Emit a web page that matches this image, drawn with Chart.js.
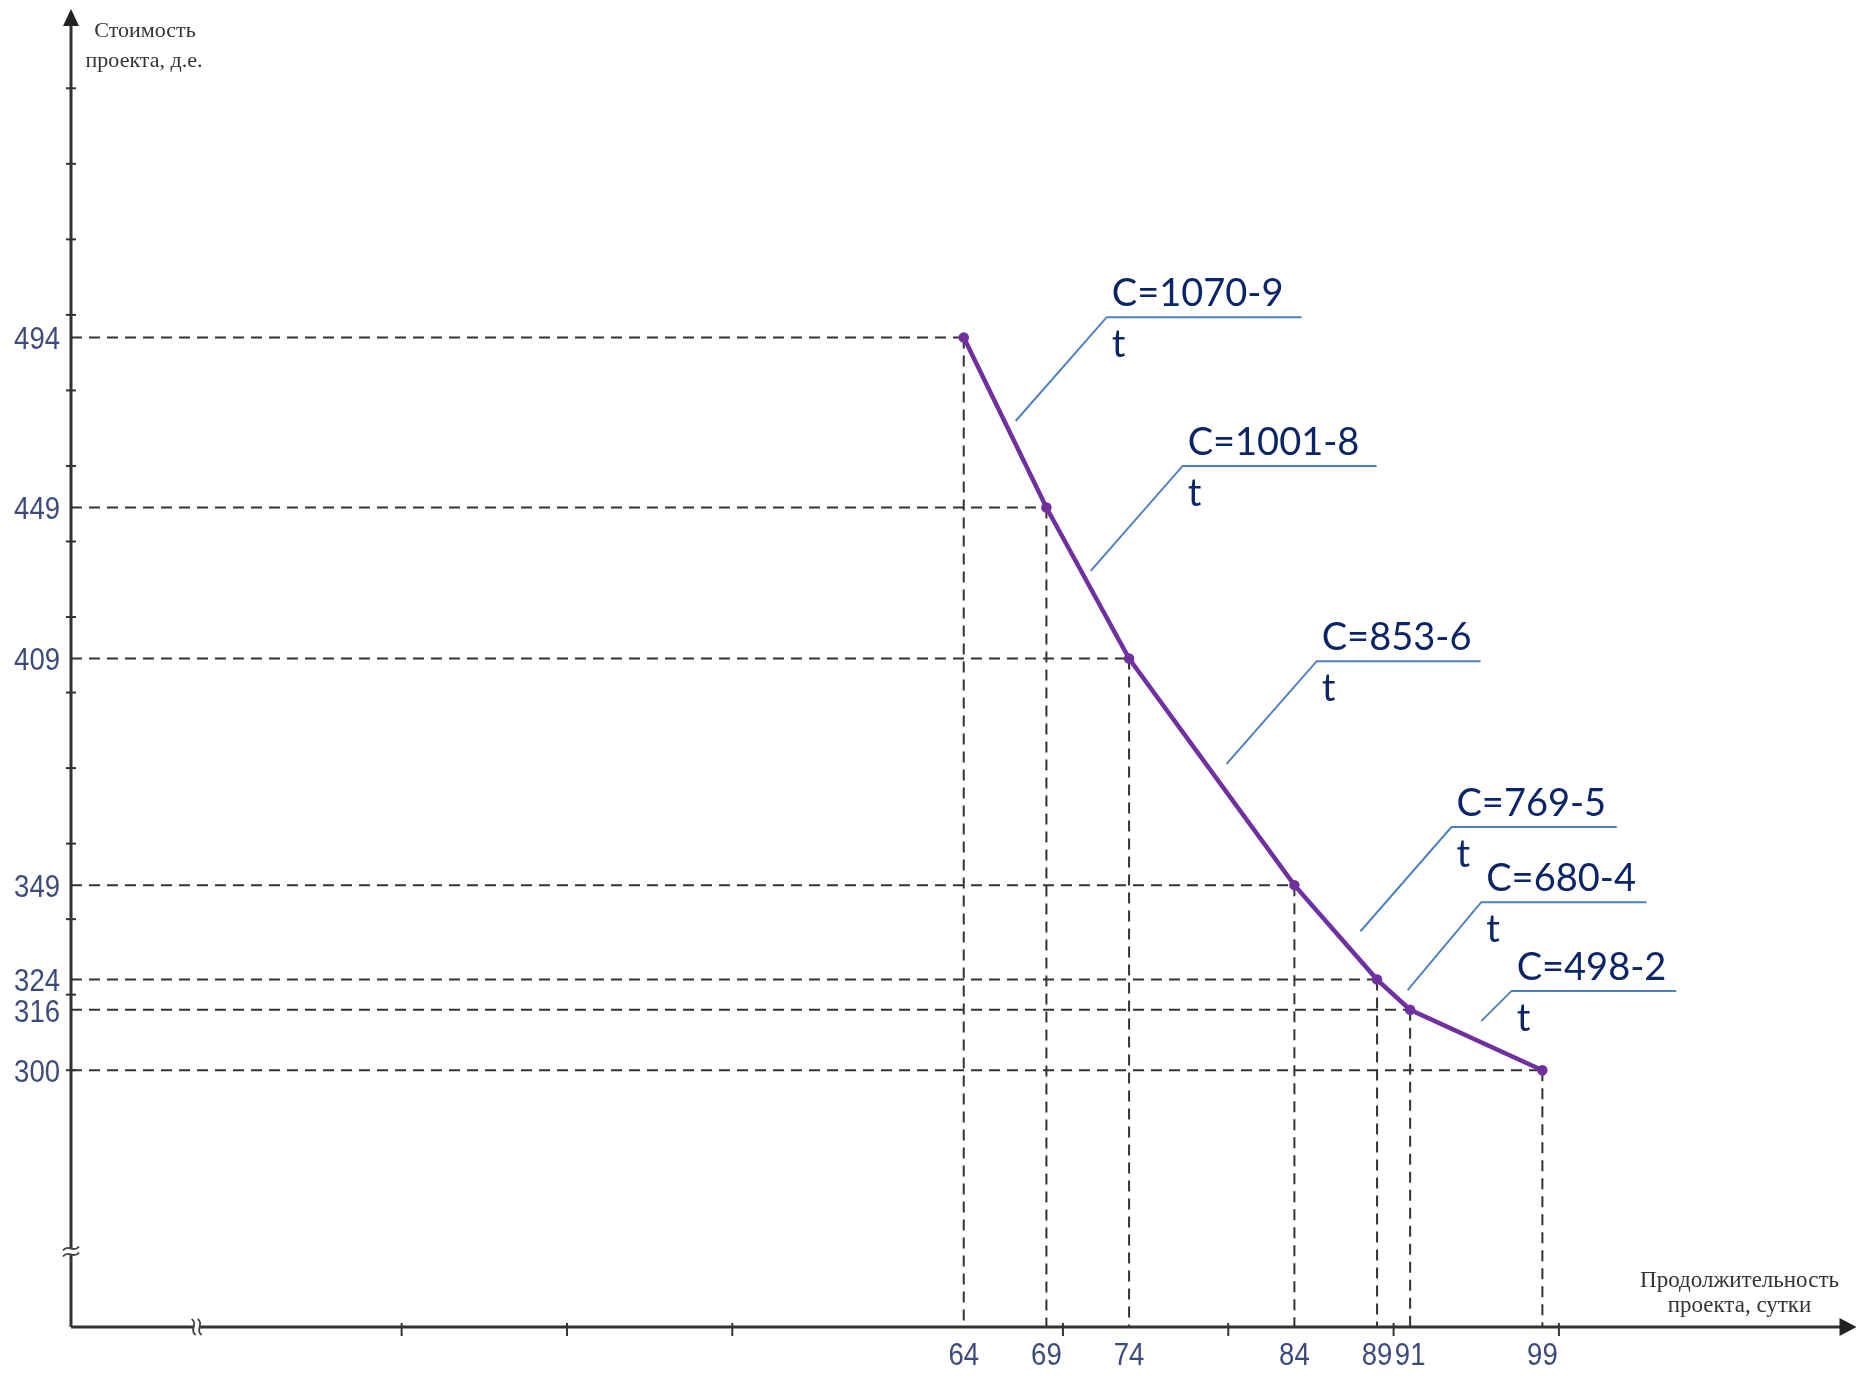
<!DOCTYPE html>
<html><head><meta charset="utf-8">
<script src="https://cdn.jsdelivr.net/npm/chart.js@4.4.0/dist/chart.umd.min.js"></script>
<style>html,body{margin:0;padding:0;background:#fff;} #wrap{width:1864px;height:1376px;}</style>
</head><body><div id="wrap"><canvas id="c" width="1864" height="1376"></canvas></div>
<script>
// ---- data ----
const durations = [64, 69, 74, 84, 89, 91, 99];
const costs = [494, 449, 409, 349, 324, 316, 300];
const xTickLabels = ['64', '69', '74', '84', '89', '91', '99'];
const yTickLabels = ['494', '449', '409', '349', '324', '316', '300'];
const xMinorTicks = [30, 40, 50, 70, 80, 90, 100];
const yMinorTicks = [300, 320, 340, 360, 380, 400, 420, 440, 460, 480, 500, 520, 540, 560];
const formulaLabels = ['C=1070-9', 'C=1001-8', 'C=853-6', 'C=769-5', 'C=680-4', 'C=498-2'];
const formulaDenominators = ['t', 't', 't', 't', 't', 't'];
const formulaX = [72.65, 77.24, 85.35, 93.5, 95.3, 97.14];
const formulaY = [499.4, 460.0, 408.3, 364.4, 344.5, 321.0];
const formulaEndX = [84.44, 88.97, 95.26, 103.5, 105.3, 107.1];
const leaderX = [67.14, 71.68, 79.9, 88.0, 90.85, 95.3];
const leaderY = [471.9, 432.2, 381.1, 336.8, 321.2, 313.0];
const xAxisTitle = ['Продолжительность', 'проекта, сутки'];
const yAxisTitle = ['Стоимость', 'проекта, д.е.'];
const xBreak = 17.6;
const yBreak = 252;

const AXIS_COLOR = '#333333';
const TICK_LABEL_COLOR = '#3d4b7c';
const LINE_COLOR = '#7030a0';
const FORMULA_COLOR = '#0b2566';
const LEADER_COLOR = '#4f81bd';

const points = durations.map((d, i) => ({x: d, y: costs[i]}));

function narrowText(ctx, text, x, y, align) {
  const k = 0.86;
  ctx.save();
  ctx.translate(x, y);
  ctx.scale(k, 1);
  ctx.textAlign = align;
  ctx.fillText(text, 0, 0);
  ctx.restore();
}

const decor = {
  id: 'decor',
  beforeDatasetsDraw(chart) {
    const ctx = chart.ctx, xs = chart.scales.x, ys = chart.scales.y, a = chart.chartArea;
    ctx.save();
    // dashed guide lines
    ctx.strokeStyle = '#333333';
    ctx.lineWidth = 2;
    ctx.setLineDash([11, 7]);
    durations.forEach((d, i) => {
      const px = xs.getPixelForValue(d), py = ys.getPixelForValue(costs[i]);
      ctx.beginPath(); ctx.moveTo(a.left, py); ctx.lineTo(px, py); ctx.stroke();
      ctx.beginPath(); ctx.moveTo(px, py); ctx.lineTo(px, a.bottom); ctx.stroke();
    });
    ctx.setLineDash([]);
    // axes
    ctx.strokeStyle = AXIS_COLOR;
    ctx.lineWidth = 3;
    ctx.beginPath(); ctx.moveTo(a.left, a.bottom); ctx.lineTo(a.left, a.top + 12); ctx.stroke();
    ctx.beginPath(); ctx.moveTo(a.left, a.bottom); ctx.lineTo(a.right - 12, a.bottom); ctx.stroke();
    ctx.fillStyle = '#222';
    ctx.beginPath(); ctx.moveTo(a.left, a.top); ctx.lineTo(a.left - 8, a.top + 17); ctx.lineTo(a.left + 8, a.top + 17); ctx.closePath(); ctx.fill();
    ctx.beginPath(); ctx.moveTo(a.right, a.bottom); ctx.lineTo(a.right - 17, a.bottom - 9); ctx.lineTo(a.right - 17, a.bottom + 9); ctx.closePath(); ctx.fill();
    // minor ticks
    ctx.lineWidth = 2;
    yMinorTicks.forEach(v => {
      const py = ys.getPixelForValue(v);
      ctx.beginPath(); ctx.moveTo(a.left - 5, py); ctx.lineTo(a.left + 5, py); ctx.stroke();
    });
    xMinorTicks.forEach(v => {
      const px = xs.getPixelForValue(v);
      ctx.beginPath(); ctx.moveTo(px, a.bottom - 4); ctx.lineTo(px, a.bottom + 9); ctx.stroke();
    });
    // axis breaks
    const by = ys.getPixelForValue(yBreak);
    ctx.fillStyle = '#fff';
    ctx.fillRect(a.left - 3, by - 3, 6, 6);
    ctx.strokeStyle = '#444';
    ctx.lineWidth = 2;
    [-3, 3].forEach(off => {
      ctx.beginPath();
      ctx.moveTo(a.left - 8, by + off + 2);
      ctx.bezierCurveTo(a.left - 3, by + off - 5, a.left + 3, by + off + 5, a.left + 8, by + off - 2);
      ctx.stroke();
    });
    const bx = xs.getPixelForValue(xBreak);
    ctx.fillRect(bx - 3, a.bottom - 3, 6, 6);
    [-3, 3].forEach(off => {
      ctx.beginPath();
      ctx.moveTo(bx + off - 2, a.bottom - 8);
      ctx.bezierCurveTo(bx + off + 5, a.bottom - 3, bx + off - 5, a.bottom + 3, bx + off + 2, a.bottom + 8);
      ctx.stroke();
    });
    ctx.restore();
  },
  afterDraw(chart) {
    const ctx = chart.ctx, xs = chart.scales.x, ys = chart.scales.y, a = chart.chartArea;
    ctx.save();
    // tick labels
    ctx.fillStyle = TICK_LABEL_COLOR;
    ctx.font = '32px "Liberation Sans", Arial, sans-serif';
    ctx.textBaseline = 'middle';
    costs.forEach((c, i) => narrowText(ctx, yTickLabels[i], a.left - 11, ys.getPixelForValue(c) + 3, 'right'));
    durations.forEach((d, i) => narrowText(ctx, xTickLabels[i], xs.getPixelForValue(d), a.bottom + 29, 'center'));
    // axis titles
    ctx.fillStyle = '#333';
    ctx.font = '22px "Liberation Serif", "Times New Roman", serif';
    ctx.textAlign = 'center'; ctx.textBaseline = 'alphabetic';
    ctx.fillText(yAxisTitle[0], a.left + 74, a.top + 28);
    ctx.fillText(yAxisTitle[1], a.left + 73, a.top + 58);
    ctx.font = '23px "Liberation Serif", "Times New Roman", serif';
    ctx.fillText(xAxisTitle[0], a.right - 117, a.bottom - 40);
    ctx.fillText(xAxisTitle[1], a.right - 117, a.bottom - 15);
    // formula annotations
    formulaLabels.forEach((lab, i) => {
      const sx = xs.getPixelForValue(formulaX[i]), sy = ys.getPixelForValue(formulaY[i]);
      const ex = xs.getPixelForValue(formulaEndX[i]);
      const lx = xs.getPixelForValue(leaderX[i]), ly = ys.getPixelForValue(leaderY[i]);
      ctx.strokeStyle = LEADER_COLOR; ctx.lineWidth = 2;
      ctx.beginPath(); ctx.moveTo(lx, ly); ctx.lineTo(sx, sy); ctx.lineTo(ex, sy); ctx.stroke();
      ctx.fillStyle = FORMULA_COLOR;
      ctx.font = '38px Lato, "Open Sans", sans-serif';
      ctx.textAlign = 'left'; ctx.textBaseline = 'alphabetic';
      ctx.fillText(lab, sx + 5, sy - 11);
      ctx.fillText(formulaDenominators[i], sx + 5, sy + 40);
    });
    ctx.restore();
  }
};

new Chart(document.getElementById('c'), {
  type: 'line',
  data: {
    datasets: [{
      data: points,
      borderColor: LINE_COLOR,
      backgroundColor: LINE_COLOR,
      borderWidth: 4.5,
      pointRadius: 3,
      pointHoverRadius: 3,
      tension: 0,
      fill: false
    }]
  },
  options: {
    responsive: false,
    animation: false,
    events: [],
    layout: {padding: {left: 71, right: 7, top: 9, bottom: 49}},
    plugins: {legend: {display: false}, tooltip: {enabled: false}},
    scales: {
      x: {type: 'linear', min: 10, max: 118, display: false},
      y: {type: 'linear', min: 232, max: 581, display: false}
    }
  },
  plugins: [decor]
});
</script></body></html>
